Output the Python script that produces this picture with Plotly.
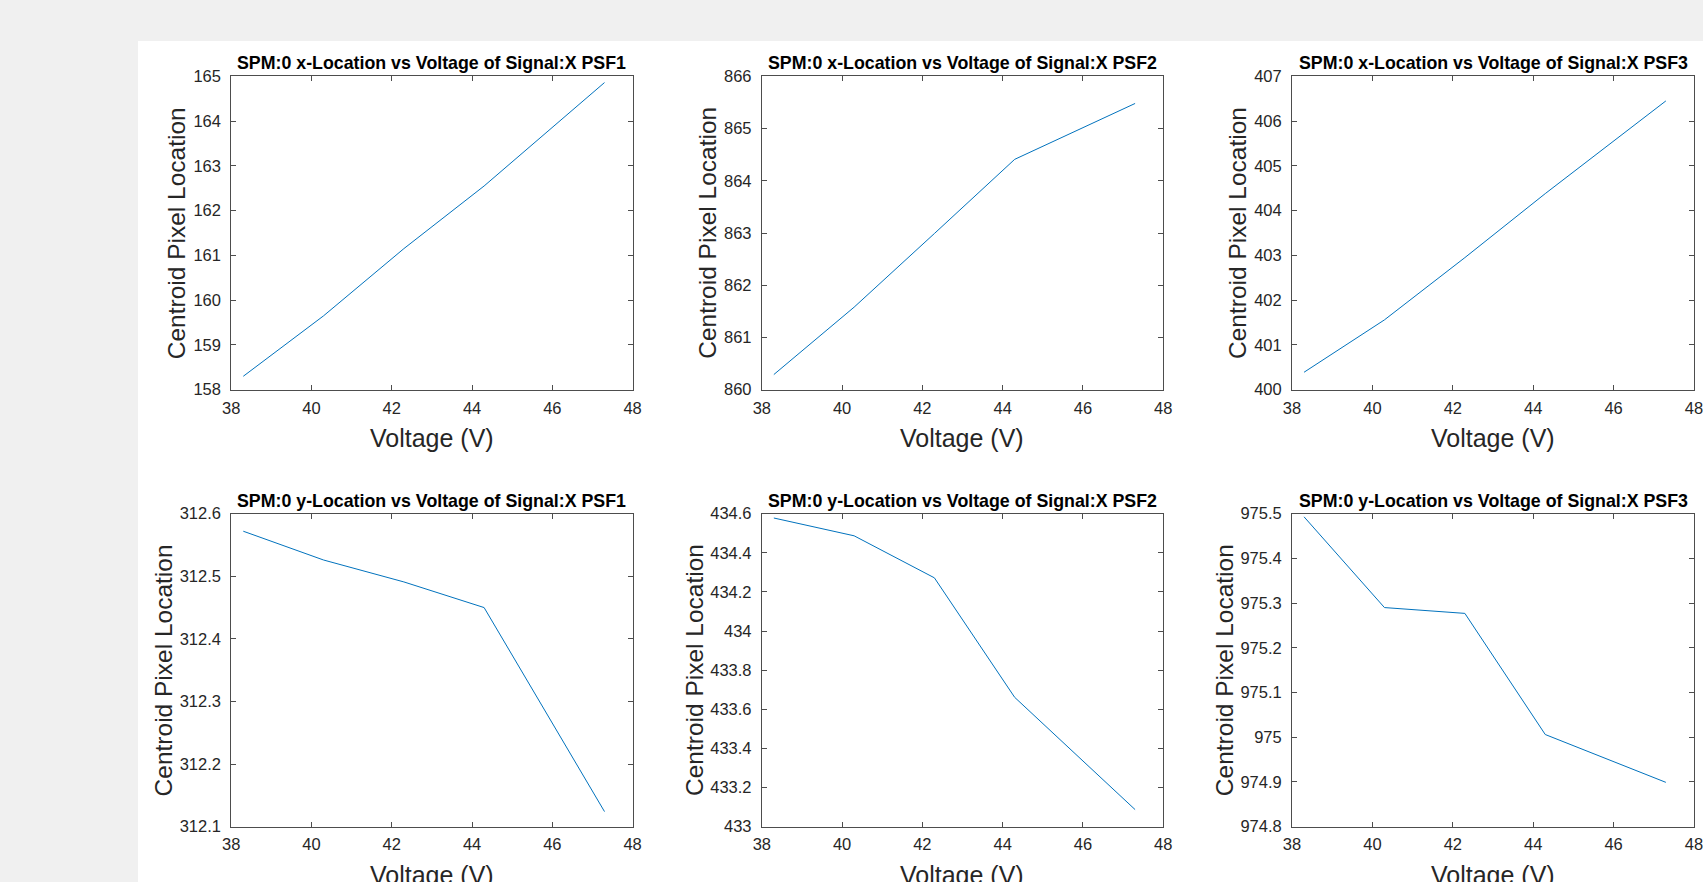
import plotly.graph_objects as go

# ---------------- data ----------------
voltage = [38.3, 40.3, 42.3, 44.3, 47.3]

x_loc_psf1 = [158.30, 159.65, 161.15, 162.55, 164.86]
x_loc_psf2 = [860.29, 861.58, 862.99, 864.41, 865.48]
x_loc_psf3 = [400.39, 401.56, 402.95, 404.38, 406.45]

y_loc_psf1 = [312.572, 312.526, 312.491, 312.450, 312.124]
y_loc_psf2 = [434.578, 434.487, 434.272, 433.661, 433.087]
y_loc_psf3 = [975.493, 975.290, 975.277, 975.006, 974.899]

titles = [
    "SPM:0 x-Location vs Voltage of Signal:X PSF1",
    "SPM:0 x-Location vs Voltage of Signal:X PSF2",
    "SPM:0 x-Location vs Voltage of Signal:X PSF3",
    "SPM:0 y-Location vs Voltage of Signal:X PSF1",
    "SPM:0 y-Location vs Voltage of Signal:X PSF2",
    "SPM:0 y-Location vs Voltage of Signal:X PSF3",
]

x_ticks = [38, 40, 42, 44, 46, 48]

y_ticks_1 = [158, 159, 160, 161, 162, 163, 164, 165]
y_ticks_2 = [860, 861, 862, 863, 864, 865, 866]
y_ticks_3 = [400, 401, 402, 403, 404, 405, 406, 407]
y_ticks_4 = [312.1, 312.2, 312.3, 312.4, 312.5, 312.6]
y_ticks_5 = [433, 433.2, 433.4, 433.6, 433.8, 434, 434.2, 434.4, 434.6]
y_ticks_6 = [974.8, 974.9, 975, 975.1, 975.2, 975.3, 975.4, 975.5]

y_labels_1 = ["158", "159", "160", "161", "162", "163", "164", "165"]
y_labels_2 = ["860", "861", "862", "863", "864", "865", "866"]
y_labels_3 = ["400", "401", "402", "403", "404", "405", "406", "407"]
y_labels_4 = ["312.1", "312.2", "312.3", "312.4", "312.5", "312.6"]
y_labels_5 = ["433", "433.2", "433.4", "433.6", "433.8", "434", "434.2", "434.4", "434.6"]
y_labels_6 = ["974.8", "974.9", "975", "975.1", "975.2", "975.3", "975.4", "975.5"]

x_title = "Voltage (V)"
y_title = "Centroid Pixel Location"

series = [x_loc_psf1, x_loc_psf2, x_loc_psf3, y_loc_psf1, y_loc_psf2, y_loc_psf3]
y_tick_sets = [y_ticks_1, y_ticks_2, y_ticks_3, y_ticks_4, y_ticks_5, y_ticks_6]
y_label_sets = [y_labels_1, y_labels_2, y_labels_3, y_labels_4, y_labels_5, y_labels_6]

# ---------------- layout geometry (pixels) ----------------
W, H = 1703, 882
cols_px = [(231.25, 632.6), (761.8, 1163.2), (1292.0, 1694.0)]
rows_px = [(76.3, 389.7), (513.7, 826.6)]
ylabel_offset = [55, 68]

FONT = "Liberation Sans, Arial, Helvetica, sans-serif"
TEXT_COL = "#262626"
AXIS_COL = "#4d4d4d"
LINE_COL = "#0072BD"

fig = go.Figure()
layout = dict(
    width=W, height=H,
    margin=dict(l=0, r=0, t=0, b=0),
    paper_bgcolor="#f0f0f0",
    plot_bgcolor="#ffffff",
    showlegend=False,
    font=dict(family=FONT, color=TEXT_COL),
)
annotations = []
shapes = [dict(type="rect", xref="paper", yref="paper",
               x0=138 / W, x1=1.0, y0=0.0, y1=1 - 41 / H,
               fillcolor="#ffffff", line=dict(width=0), layer="below")]

for i in range(6):
    r, c = divmod(i, 3)
    k = i + 1
    sfx = "" if k == 1 else str(k)
    x0, x1 = cols_px[c]
    y0, y1 = rows_px[r]
    yt = y_tick_sets[i]
    rng_y = [yt[0], yt[-1]]

    fig.add_trace(go.Scatter(
        x=voltage, y=series[i], mode="lines",
        line=dict(color=LINE_COL, width=1),
        xaxis="x" + sfx, yaxis="y" + sfx, hoverinfo="x+y"))

    layout["xaxis" + sfx] = dict(
        domain=[x0 / W, x1 / W], range=[x_ticks[0], x_ticks[-1]],
        anchor="y" + sfx, tickmode="array", tickvals=x_ticks,
        ticktext=[str(v) for v in x_ticks],
        ticks="inside", ticklen=5, tickwidth=1, tickcolor=AXIS_COL,
        showline=True, linecolor=AXIS_COL, linewidth=1, mirror="ticks",
        showgrid=False, zeroline=False, automargin=False,
        ticklabeloverflow="allow",
        tickfont=dict(family=FONT, size=16.5, color=TEXT_COL),
        ticklabelstandoff=3)
    layout["yaxis" + sfx] = dict(
        domain=[1 - y1 / H, 1 - y0 / H], range=rng_y,
        anchor="x" + sfx, tickmode="array", tickvals=yt,
        ticktext=y_label_sets[i],
        ticks="inside", ticklen=5, tickwidth=1, tickcolor=AXIS_COL,
        showline=True, linecolor=AXIS_COL, linewidth=1, mirror="ticks",
        showgrid=False, zeroline=False, automargin=False,
        ticklabeloverflow="allow",
        tickfont=dict(family=FONT, size=16.5, color=TEXT_COL),
        ticklabelstandoff=6)

    # subplot title
    annotations.append(dict(
        text="<b>" + titles[i] + "</b>", xref="paper", yref="paper",
        x=(x0 + x1) / 2 / W, y=1 - (y0 - 1) / H,
        xanchor="center", yanchor="bottom", showarrow=False,
        font=dict(family=FONT, size=17.8, color="#000000")))
    # x axis title
    annotations.append(dict(
        text=x_title, xref="paper", yref="paper",
        x=(x0 + x1) / 2 / W, y=1 - (y1 + 48) / H,
        xanchor="center", yanchor="middle", showarrow=False,
        font=dict(family=FONT, size=25, color=TEXT_COL)))
    # y axis title
    annotations.append(dict(
        text=y_title, xref="paper", yref="paper",
        x=(x0 - ylabel_offset[r]) / W, y=1 - (y0 + y1) / 2 / H,
        xanchor="center", yanchor="middle", textangle=-90, showarrow=False,
        font=dict(family=FONT, size=24.5, color=TEXT_COL)))

layout["annotations"] = annotations
layout["shapes"] = shapes
fig.update_layout(**layout)

fig.write_html("out.html", config={"displayModeBar": False},
               post_script="document.body.style.margin='0';document.body.style.overflow='hidden';")
